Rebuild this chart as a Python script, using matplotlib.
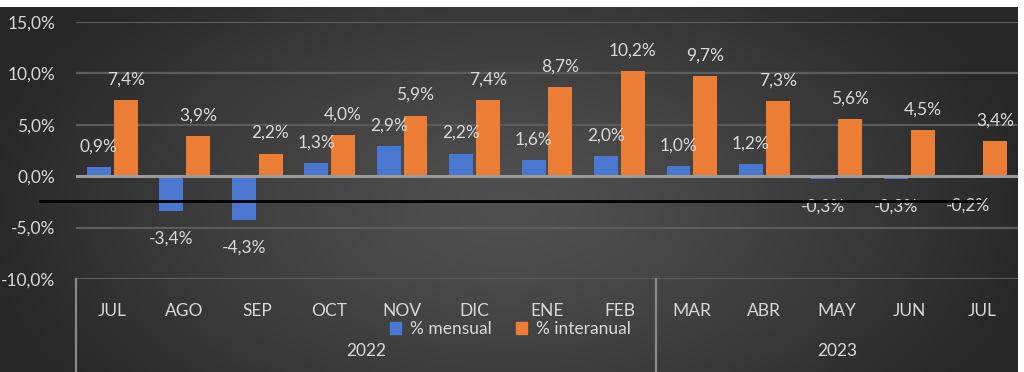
import numpy as np
import matplotlib
matplotlib.use("Agg")
import matplotlib.pyplot as plt
from matplotlib.patches import Patch
from matplotlib.lines import Line2D

months = ["JUL", "AGO", "SEP", "OCT", "NOV", "DIC", "ENE", "FEB",
          "MAR", "ABR", "MAY", "JUN", "JUL"]
years = ["2022", "2023"]
year_counts = [8, 5]
mensual = [0.9, -3.4, -4.3, 1.3, 2.9, 2.2, 1.6, 2.0, 1.0, 1.2, -0.3, -0.3, -0.2]
interanual = [7.4, 3.9, 2.2, 4.0, 5.9, 7.4, 8.7, 10.2, 9.7, 7.3, 5.6, 4.5, 3.4]
yticks = [-10, -5, 0, 5, 10, 15]
ref_line = -2.4
series_names = ["% mensual", "% interanual"]

plt.rcParams['font.family'] = ['Lato', 'DejaVu Sans']
TXT = '#d9d9d9'
BLUE = '#4a78d0'
ORANGE = '#eb7e34'
FS = 12.5

W, H = 1024, 372
fig = plt.figure(figsize=(W / 100, H / 100), dpi=100)
fig.patch.set_facecolor('white')

# background gradient
bg = fig.add_axes([0, 0, 1018 / W, (H - 7) / H])
bg.set_axis_off()
xx, yy = np.meshgrid(np.linspace(-1, 1, 400), np.linspace(-1, 1, 150))
r = np.sqrt((xx * 0.95) ** 2 + ((yy + 0.1) * 0.6) ** 2)
r = np.clip(r, 0, 1)
c0 = np.array([0x50, 0x50, 0x50]) / 255
c1 = np.array([0x27, 0x27, 0x27]) / 255
img = c0[None, None, :] * (1 - r[..., None] ** 1.3) + c1[None, None, :] * (r[..., None] ** 1.3)
bg.imshow(img, aspect='auto', extent=[0, 1, 0, 1], origin='lower')
bg.set_xlim(0, 1); bg.set_ylim(0, 1)

x0, x1 = 76, 1018
ytop, ybot = 22, 279
ax = fig.add_axes([x0 / W, (H - ybot) / H, (x1 - x0) / W, (ybot - ytop) / H])
ax.set_facecolor('none')
n = len(months)
x = np.arange(n)
bw = 0.33
off = 0.185
ax.bar(x - off, mensual, bw, color=BLUE, zorder=3)
ax.bar(x + off, interanual, bw, color=ORANGE, zorder=3)
ax.set_xlim(-0.5, n - 0.5)
ax.set_ylim(-10, 15)
ax.set_yticks(yticks)
ax.set_yticklabels([f"{v:.1f}%".replace('.', ',') for v in yticks])
ax.tick_params(axis='y', length=0, pad=15, labelcolor=TXT, labelsize=FS)
ax.tick_params(axis='x', length=0, labelbottom=False)
for s in ax.spines.values():
    s.set_visible(False)
for v in yticks:
    if v == 0:
        continue
    ax.axhline(v, color='#5c5c5c', lw=1.6, zorder=1)
ax.axhline(0, color='#9a9a9a', lw=2.2, zorder=4)

fmt = lambda v: f"{v:.1f}%".replace('.', ',')
for i in range(n):
    for val, dx in ((mensual[i], -off), (interanual[i], off)):
        if val >= 0:
            ax.annotate(fmt(val), (i + dx, val), xytext=(0, 9), textcoords='offset points',
                        ha='center', va='bottom', color=TXT, fontsize=FS, zorder=5)
        else:
            ax.annotate(fmt(val), (i + dx, val), xytext=(0, -14), textcoords='offset points',
                        ha='center', va='top', color=TXT, fontsize=FS, zorder=5)

# black reference line
ax.axhline(ref_line, xmin=(40 - x0) / (x1 - x0), xmax=(980 - x0) / (x1 - x0),
           color='black', lw=2, clip_on=False, zorder=6)

# category table
tr = ax.get_xaxis_transform()
for i, m in enumerate(months):
    ax.text(i, -0.125, m, transform=tr, ha='center', va='center', color=TXT, fontsize=FS)
start = -0.5
bounds = [start]
for cnt in year_counts:
    bounds.append(bounds[-1] + cnt)
for b in bounds[:-1]:
    ax.add_line(Line2D([b, b], [0, -93 / (ybot - ytop)], transform=tr, color='#8a8a8a',
                       lw=1.6, clip_on=False))
for k, yname in enumerate(years):
    cx = (bounds[k] + bounds[k + 1]) / 2
    ax.text(cx, -0.28, yname, transform=tr, ha='center', va='center', color=TXT, fontsize=FS)

handles = [Patch(color=BLUE), Patch(color=ORANGE)]
fig.legend(handles, series_names, loc='center', bbox_to_anchor=(510 / W, (H - 329) / H),
           ncol=2, frameon=False, fontsize=FS, labelcolor=TXT, handlelength=0.65,
           handleheight=0.65, handletextpad=0.5, columnspacing=1.4, borderpad=0)

fig.savefig('out.png', dpi=100, facecolor='white')
